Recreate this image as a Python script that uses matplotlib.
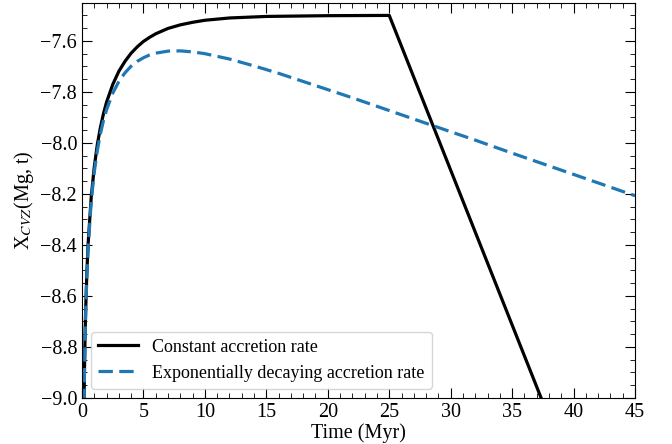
import numpy as np
import matplotlib
matplotlib.use('Agg')
import matplotlib.pyplot as plt
from matplotlib.ticker import MultipleLocator

plt.rcParams['font.family'] = ['Liberation Serif', 'DejaVu Serif']
plt.rcParams['mathtext.fontset'] = 'stix'

# values
t_const = [0.17, 0.2, 0.25, 0.3, 0.4, 0.5, 0.75, 1.0, 1.25, 1.5, 1.75, 2.0, 2.5,
           3.0, 3.5, 4.0, 4.5, 5.0, 5.5, 6.0, 7.0, 8.0, 9.0, 10.0, 12.0, 15.0,
           20.0, 25.0, 37.36, 38.0]
x_const = [-9.006, -8.895, -8.757, -8.654, -8.504, -8.395, -8.213, -8.094, -8.006,
           -7.939, -7.885, -7.840, -7.771, -7.719, -7.680, -7.648, -7.623, -7.602,
           -7.586, -7.572, -7.551, -7.537, -7.527, -7.519, -7.510, -7.504,
           -7.501, -7.500, -9.0, -9.078]

t_decay = [0.17, 0.2, 0.25, 0.3, 0.4, 0.5, 0.75, 1.0, 1.25, 1.5, 1.75, 2.0, 2.5,
           3.0, 3.5, 4.0, 4.5, 5.0, 5.5, 6.0, 7.0, 8.0, 9.0, 10.0, 12.0, 14.0,
           16.0, 18.0, 20.0, 22.0, 25.0, 28.0, 30.0, 32.0, 35.0, 38.0, 41.0, 45.0]
x_decay = [-9.020, -8.908, -8.771, -8.668, -8.519, -8.412, -8.231, -8.114, -8.029,
           -7.964, -7.912, -7.870, -7.805, -7.759, -7.725, -7.699, -7.680, -7.666,
           -7.655, -7.648, -7.640, -7.639, -7.643, -7.650, -7.671, -7.698,
           -7.727, -7.759, -7.791, -7.823, -7.873, -7.923, -7.956, -7.989,
           -8.040, -8.090, -8.140, -8.207]

fig = plt.figure(figsize=(6.72, 4.44), dpi=100)
ax = fig.add_axes([0.122, 0.1036, 0.823, 0.8904])

ax.plot(t_const, x_const, color='black', lw=2.3, label='Constant accretion rate')
ax.plot(t_decay, x_decay, color='#1f77b4', lw=2.3, dashes=(4.5, 2),
        label='Exponentially decaying accretion rate')

ax.set_xlim(0, 45)
ax.set_ylim(-9.0, -7.45)
ax.xaxis.set_major_locator(MultipleLocator(5))
ax.xaxis.set_minor_locator(MultipleLocator(1))
ax.yaxis.set_major_locator(MultipleLocator(0.2))
ax.yaxis.set_minor_locator(MultipleLocator(0.05))
ax.tick_params(which='both', direction='in', top=True, right=True, labelsize=14.5)
ax.tick_params(which='major', length=7)
ax.tick_params(which='minor', length=3.5)

ax.set_xlabel('Time (Myr)', fontsize=14.5, labelpad=1)
ax.set_ylabel(r'X$_{CVZ}$(Mg, t)', fontsize=14.5, labelpad=3)

ax.legend(loc='lower left', fontsize=13, handlelength=2.2)

fig.savefig('out.png', dpi=100)
